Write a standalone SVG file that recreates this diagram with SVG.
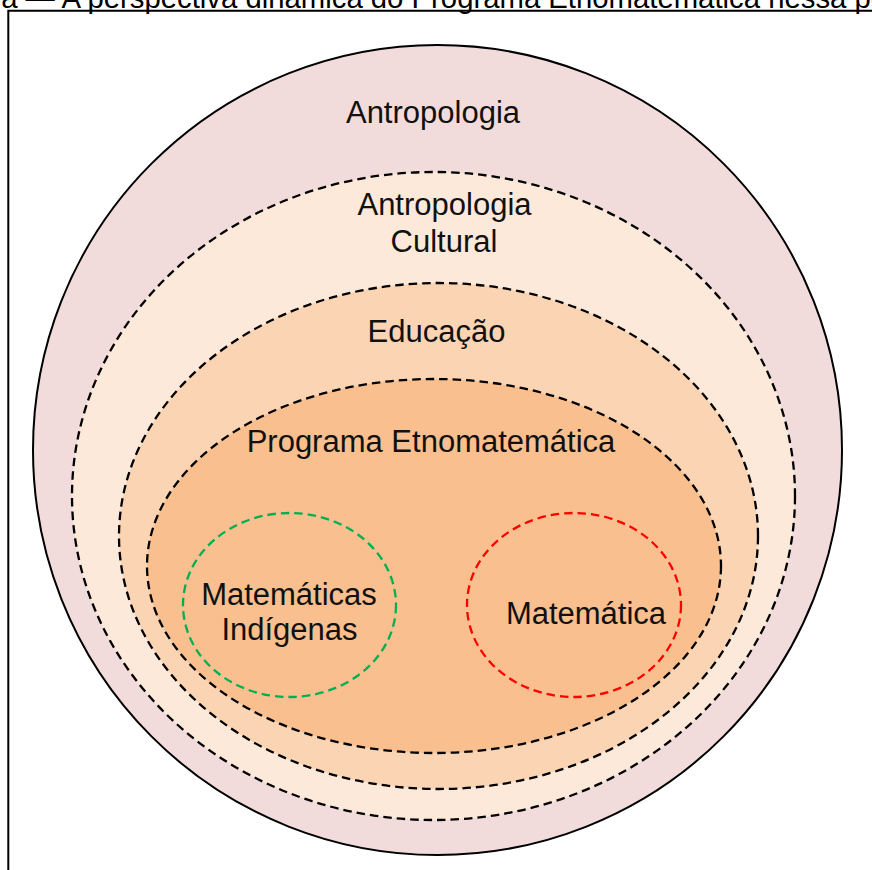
<svg xmlns="http://www.w3.org/2000/svg" width="872" height="870" viewBox="0 0 872 870">
  <style>
    .lbl { font-family: "Liberation Sans", Arial, sans-serif; font-size: 31px; fill: #111; text-anchor: middle; }
    .cap { font-family: "Liberation Sans", Arial, sans-serif; font-size: 29.3px; fill: #000; }
    .dash { stroke: #000; stroke-width: 2.3; stroke-dasharray: 8.5 5; }
    .frame { fill: none; stroke: #000; stroke-width: 2; }
  </style>

  <rect width="872" height="870" fill="#fff"/>

  <!-- caption (top edge of the page) -->
  <text class="cap" x="-8.6" y="7.5">ra — A perspectiva dinâmica do Programa Etnomatemática nessa pesquisa</text>

  <!-- frame -->
  <path class="frame" d="M8.3 872 V10.8 H874"/>

  <!-- nested fields -->
  <g id="antropologia">
    <ellipse cx="437.5" cy="450" rx="404.5" ry="405" fill="#F2DCDB" stroke="#000" stroke-width="2"/>
    <text class="lbl" x="433" y="123">Antropologia</text>
  </g>

  <g id="antropologia-cultural">
    <ellipse class="dash" cx="433.5" cy="496" rx="361.5" ry="324" fill="#FDE9D9"/>
    <text class="lbl" x="444.5" y="215">Antropologia</text>
    <text class="lbl" x="444" y="252">Cultural</text>
  </g>

  <g id="educacao">
    <ellipse class="dash" cx="438.5" cy="536" rx="319.5" ry="253" fill="#FBD4B4"/>
    <text class="lbl" x="436.5" y="342">Educação</text>
  </g>

  <g id="programa-etnomatematica">
    <ellipse class="dash" cx="434" cy="566" rx="287" ry="187" fill="#F9BF8E"/>
    <text class="lbl" x="431" y="452">Programa Etnomatemática</text>
  </g>

  <g id="matematicas-indigenas">
    <ellipse cx="289.5" cy="605" rx="106.5" ry="92" fill="none" stroke="#00B050" stroke-width="2.3" stroke-dasharray="8.5 5"/>
    <text class="lbl" x="289" y="605">Matemáticas</text>
    <text class="lbl" x="289.5" y="640">Indígenas</text>
  </g>

  <g id="matematica">
    <ellipse cx="574" cy="605" rx="107" ry="92" fill="none" stroke="#FF0000" stroke-width="2.3" stroke-dasharray="8.5 5"/>
    <text class="lbl" x="586" y="624">Matemática</text>
  </g>

  <g id="connectors"/>
</svg>
